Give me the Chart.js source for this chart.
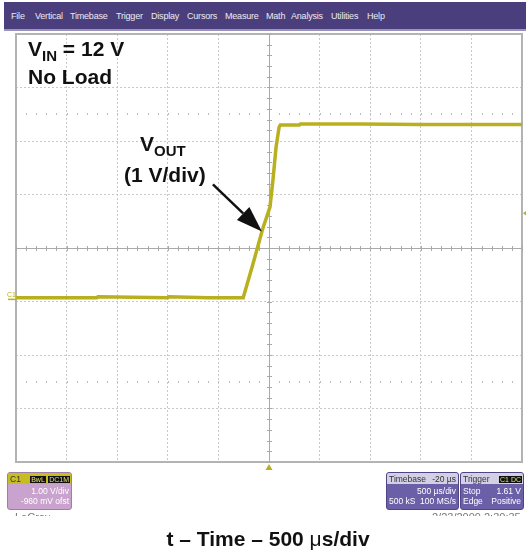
<!DOCTYPE html>
<html><head><meta charset="utf-8">
<script src="https://cdn.jsdelivr.net/npm/chart.js@4/dist/chart.umd.min.js"></script>
<style>
html,body{margin:0;padding:0;background:#fff;width:526px;height:554px;overflow:hidden;font-family:"Liberation Sans",Arial,sans-serif;}
#wrap{position:relative;width:526px;height:554px;}
#c{position:absolute;left:0;top:0;}
.abs{position:absolute;white-space:nowrap;}
#menu{left:4px;top:2px;width:522px;height:27px;background:#4a3e7c;border-bottom:2px solid #9a94bb;}
#menu span{position:absolute;top:9px;font-size:9px;color:#ecebf3;letter-spacing:-0.2px;}
.ann{font-weight:bold;color:#111;font-size:21px;}
.ann sub{font-size:15px;vertical-align:-5px;}
.box{position:absolute;height:36px;border-radius:3px;overflow:hidden;font-size:8.5px;color:#fff;}
.hdr{position:absolute;left:0;top:0;right:0;height:11px;}
.row{position:absolute;left:2px;right:2px;height:10px;}
.l{position:absolute;left:0;}
.r{position:absolute;right:0;}
.blk{background:#111;color:#e8e070;padding:0 1px;font-size:7px;}
.clip{position:absolute;height:5px;overflow:hidden;font-size:11px;color:#777;}
</style>
</head><body>
<div id="wrap">
<canvas id="c" width="526" height="554"></canvas>
<div id="menu" class="abs">
<span style="left:7px">File</span><span style="left:31px">Vertical</span><span style="left:66px">Timebase</span><span style="left:112px">Trigger</span><span style="left:147px">Display</span><span style="left:183px">Cursors</span><span style="left:221px">Measure</span><span style="left:262px">Math</span><span style="left:287px">Analysis</span><span style="left:327px">Utilities</span><span style="left:363px">Help</span>
</div>
<div class="abs ann" style="left:28px;top:37px;">V<sub>IN</sub> = 12 V</div>
<div class="abs ann" style="left:28px;top:65px;">No Load</div>
<div class="abs ann" style="left:140px;top:132px;">V<sub>OUT</sub></div>
<div class="abs ann" style="left:124px;top:163px;">(1 V/div)</div>

<div class="box" style="left:7px;top:472px;width:63px;background:#c9a3cd;border:1px solid #9d7fa5;">
  <div class="hdr" style="background:#c7bd22;color:#333;"><span class="l" style="left:2px;top:1px">C1</span><span class="r" style="right:1px;top:1px"><span class="blk">BwL</span> <span class="blk">DC1M</span></span></div>
  <div class="row" style="top:13px"><span class="r">1.00 V/div</span></div>
  <div class="row" style="top:23px"><span class="r">-960 mV ofst</span></div>
</div>
<div class="box" style="left:386px;top:472px;width:71px;background:#6b5fa7;border:1px solid #4e4585;">
  <div class="hdr" style="background:#d3d0e6;color:#333;"><span class="l" style="left:2px;top:1px">Timebase</span><span class="r" style="right:2px;top:1px">-20 µs</span></div>
  <div class="row" style="top:13px"><span class="r">500 µs/div</span></div>
  <div class="row" style="top:23px"><span class="l">500 kS</span><span class="r">100 MS/s</span></div>
</div>
<div class="box" style="left:460px;top:472px;width:62px;background:#6b5fa7;border:1px solid #4e4585;">
  <div class="hdr" style="background:#d3d0e6;color:#333;"><span class="l" style="left:2px;top:1px">Trigger</span><span class="r" style="right:1px;top:1px"><span class="blk">C1</span><span class="blk">DC</span></span></div>
  <div class="row" style="top:13px"><span class="l">Stop</span><span class="r">1.61 V</span></div>
  <div class="row" style="top:23px"><span class="l">Edge</span><span class="r">Positive</span></div>
</div>
<div class="clip" style="left:15px;top:511px;">LeCroy</div>
<div class="clip" style="left:432px;top:511px;">2/23/2009 2:30:35 PM</div>
<div class="abs" style="left:0;width:536px;top:527px;text-align:center;font-weight:bold;font-size:21px;color:#111;">t – Time – 500 <span style="font-weight:normal">μ</span>s/div</div>
</div>
<script>
// ---- data ----
const timeUs = [-2500, -1700, -1690, -1000, -990, -600, -255, -160, -65, 10, 40, 70, 100, 112, 300, 310, 900, 1500, 2500];
const volts  = [0.03, 0.03, 0.05, 0.03, 0.05, 0.03, 0.03, 0.65, 1.30, 1.73, 2.25, 2.85, 3.22, 3.26, 3.26, 3.28, 3.28, 3.27, 3.27];
const xTicks = [-2500, -2000, -1500, -1000, -500, 0, 500, 1000, 1500, 2000, 2500];
const yTicks = [-3.04, -2.04, -1.04, -0.04, 0.96, 1.96, 2.96, 3.96, 4.96];
const dotRowsV = [3.46, -1.54];
const xCenter = 0, yCenter = 0.96, groundV = 0, trigV = 1.61;
const traceColor = '#b9b01f';

const pts = timeUs.map((t, i) => ({x: t, y: volts[i]}));

const scopePlugin = {
  id: 'scope',
  beforeDatasetsDraw(chart) {
    const {ctx, chartArea: a, scales: {x, y}} = chart;
    ctx.save();
    ctx.strokeStyle = '#b3b3b3'; ctx.lineWidth = 2;
    ctx.strokeRect(a.left, a.top, a.right - a.left, a.bottom - a.top);
    // sparse dot rows
    ctx.fillStyle = '#bdbdbd';
    dotRowsV.forEach(v => {
      const py = Math.round(y.getPixelForValue(v));
      for (let t = -2400; t < 2500; t += 100) {
        const px = Math.round(x.getPixelForValue(t));
        ctx.fillRect(px, py - 1, 1, 2);
      }
    });
    const cx = x.getPixelForValue(xCenter), cy = y.getPixelForValue(yCenter);
    ctx.strokeStyle = '#a9a9a9'; ctx.lineWidth = 1;
    ctx.beginPath();
    ctx.moveTo(cx + 0.5, a.top); ctx.lineTo(cx + 0.5, a.bottom);
    ctx.moveTo(a.left, cy + 0.5); ctx.lineTo(a.right, cy + 0.5);
    for (let t = -2500; t <= 2500; t += 100) {
      const px = Math.round(x.getPixelForValue(t)) + 0.5;
      ctx.moveTo(px, cy - 2); ctx.lineTo(px, cy + 3);
    }
    for (let v = yTicks[0]; v <= yTicks[yTicks.length - 1] + 1e-6; v += 0.2) {
      const py = Math.round(y.getPixelForValue(v)) + 0.5;
      ctx.moveTo(cx - 2, py); ctx.lineTo(cx + 3, py);
    }
    ctx.stroke();
    ctx.restore();
  },
  afterDatasetsDraw(chart) {
    const {ctx, chartArea: a, scales: {x, y}} = chart;
    ctx.save();
    const gy = y.getPixelForValue(groundV);
    ctx.strokeStyle = traceColor; ctx.fillStyle = traceColor; ctx.lineWidth = 1.5;
    ctx.beginPath(); ctx.moveTo(8, gy); ctx.lineTo(a.left, gy); ctx.stroke();
    ctx.font = '7px "Liberation Sans", Arial'; ctx.textBaseline = 'bottom';
    ctx.fillText('C1', 7, gy - 1);
    const ty = y.getPixelForValue(trigV);
    ctx.beginPath(); ctx.moveTo(a.right + 1, ty); ctx.lineTo(a.right + 5, ty - 3); ctx.lineTo(a.right + 5, ty + 3); ctx.closePath(); ctx.fill();
    const tx = x.getPixelForValue(xCenter);
    ctx.beginPath(); ctx.moveTo(tx, a.bottom + 2); ctx.lineTo(tx - 3.5, a.bottom + 8); ctx.lineTo(tx + 3.5, a.bottom + 8); ctx.closePath(); ctx.fill();
    const tipX = x.getPixelForValue(-70), tipY = y.getPixelForValue(1.27);
    const tailX = tipX - 49, tailY = tipY - 47;
    const ang = Math.atan2(tipY - tailY, tipX - tailX);
    const hl = 26, hw = 9;
    const bx = tipX - hl * Math.cos(ang), by = tipY - hl * Math.sin(ang);
    ctx.strokeStyle = '#111'; ctx.fillStyle = '#111'; ctx.lineWidth = 2.5;
    ctx.beginPath(); ctx.moveTo(tailX, tailY); ctx.lineTo(bx, by); ctx.stroke();
    ctx.beginPath(); ctx.moveTo(tipX, tipY);
    ctx.lineTo(bx + hw * Math.sin(ang), by - hw * Math.cos(ang));
    ctx.lineTo(bx - hw * Math.sin(ang), by + hw * Math.cos(ang));
    ctx.closePath(); ctx.fill();
    ctx.restore();
  }
};

new Chart(document.getElementById('c'), {
  type: 'line',
  data: { datasets: [{ data: pts, borderColor: traceColor, borderWidth: 3.5, pointRadius: 0, tension: 0, fill: false }] },
  options: {
    responsive: false, animation: false, devicePixelRatio: 1,
    layout: { padding: { left: 16, top: 34, right: 4, bottom: 92 } },
    plugins: { legend: { display: false }, tooltip: { enabled: false } },
    scales: {
      x: { type: 'linear', min: -2500, max: 2500,
           afterBuildTicks: s => { s.ticks = xTicks.map(v => ({value: v})); },
           ticks: { display: false }, grid: { color: '#c8c8c8', lineWidth: 1, drawTicks: false },
           border: { display: false, dash: [2, 2] } },
      y: { type: 'linear', min: yTicks[0], max: yTicks[yTicks.length - 1],
           afterBuildTicks: s => { s.ticks = yTicks.map(v => ({value: v})); },
           ticks: { display: false }, grid: { color: '#c8c8c8', lineWidth: 1, drawTicks: false },
           border: { display: false, dash: [2, 2] } }
    }
  },
  plugins: [scopePlugin]
});
</script>
</body></html>
